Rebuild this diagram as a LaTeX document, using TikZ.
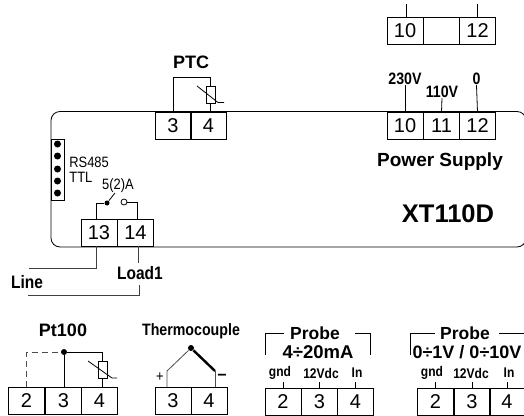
\documentclass[tikz,border=0pt]{standalone}
\usepackage{fontspec}
\setmainfont{Liberation Sans}
\newfontfamily\narrowfont[FakeStretch=.86]{Liberation Sans}
\tikzset{
  cell/.style={draw,minimum width=36,minimum height=27,inner sep=0,outer sep=0,font=\fontsize{20}{20}\selectfont},
  lbl/.style={inner sep=0,font=\bfseries\fontsize{#1}{#1}\selectfont},
  nlbl/.style={inner sep=0,font=\narrowfont\bfseries\fontsize{#1}{#1}\selectfont},
  tlbl/.style={inner sep=0,font=\narrowfont\fontsize{#1}{#1}\selectfont},
  pin/.style={circle,fill=black,inner sep=0,minimum size=#1},
  resist/.style={draw,fill=white,minimum width=9,minimum height=17,inner sep=0,outer sep=0},
}
\begin{document}
\begin{tikzpicture}[x=1pt,y=-1pt,line width=.8pt]
\useasboundingbox (0,0) rectangle (524,415);
% controller body
\draw[rounded corners=9pt] (51,111.5) rectangle (526,247);
% terminals
\node[cell] (top10) at (405,31) {10};
\node[cell] (top11) at (441.5,31) {};
\node[cell] (top12) at (477.5,31) {12};
\node[cell] (sup10) at (405,125.5) {10};
\node[cell] (sup11) at (441.5,125.5) {11};
\node[cell] (sup12) at (477.5,125.5) {12};
\node[cell] (ptc3) at (173,125.5) {3};
\node[cell] (ptc4) at (208.5,125.5) {4};
\node[cell] (rel13) at (99,232.5) {13};
\node[cell] (rel14) at (135.5,232.5) {14};
\node[cell] (pt2) at (26.5,400.5) {2};
\node[cell] (pt3) at (63.5,400.5) {3};
\node[cell] (pt4) at (99.5,400.5) {4};
\node[cell] (tc3) at (173,400.5) {3};
\node[cell] (tc4) at (209,400.5) {4};
\node[cell] (ma2) at (283,401.5) {2};
\node[cell] (ma3) at (319.5,401.5) {3};
\node[cell] (ma4) at (355.5,401.5) {4};
\node[cell] (vo2) at (435.5,401.5) {2};
\node[cell] (vo3) at (472,401.5) {3};
\node[cell] (vo4) at (507,401.5) {4};
% top supply
\coordinate (top10end) at (406,4);
\coordinate (top12end) at (477.5,4);
\draw (top10.north -| top10end) -- (top10end);
\draw (top12.north) -- (top12end);
% supply
\node[nlbl=16.5] (v230) at (405,79) {230V};
\node[nlbl=16.5] (v110) at (442,92) {110V};
\node[nlbl=16.5] (v0) at (476.5,79) {0};
\draw (sup10.north) -- (v230.south);
\draw (sup11.north) -- (v110.south);
\draw (sup12.north) -- (v0.south);
\node[lbl=19] (supply) at (440,162) {Power Supply};
\node[lbl=25.5] (model) at (448,214) {XT110D};
% PTC
\node[lbl=18] (ptclbl) at (191,62) {PTC};
\node[resist] (ptcr) at (210.5,94.5) {};
\draw (ptc3.north) |- (210.5,77) -- (ptcr.north);
\draw (ptcr.south) -- (ptcr.south |- ptc4.north);
\draw (197,86) -- (218,102.5) -- (224,102.5);
% serial port
\node[draw,minimum width=13,minimum height=61,inner sep=0] (port) at (57.5,169.5) {};
\node[pin=7] (d1) at (57.5,144) {};
\node[pin=7] (d2) at (57.5,156) {};
\node[pin=7] (d3) at (57.5,169) {};
\node[pin=7] (d4) at (57.5,181) {};
\node[pin=7] (d5) at (57.5,193) {};
\node[tlbl=15,anchor=west] (rs) at (69,162) {RS485};
\node[tlbl=15,anchor=west] (ttl) at (69,177) {TTL};
% relay
\node[tlbl=15] (amp) at (118,186) {5(2)A};
\node[pin=5] (nc) at (107,203) {};
\node[circle,draw,fill=white,minimum size=6,inner sep=0] (no) at (124,202) {};
\draw (rel13.north -| 96,0) |- (nc);
\draw (nc) -- (115,193);
\draw (no) -| (137,219);
% line and load
\node[nlbl=18] (line) at (27,282) {Line};
\node[nlbl=18] (load) at (140,273) {Load1};
\draw[black!75] (96,246) |- (29,268);
\draw[black!75] (138,246) -- (138,263);
\draw[black!75] (139,285) |- (28,295);
% Pt100
\node[lbl=18] (ptlbl) at (63,330) {Pt100};
\node[pin=6] (ptd) at (64,352) {};
\node[resist] (ptr) at (102.5,369.5) {};
\draw[dash pattern=on 6pt off 4pt,black!70] (pt2.north) |- (ptd);
\draw (ptd) -- (ptd |- pt3.north);
\draw (ptd) -| (ptr.north);
\draw (ptr.south) -- (ptr.south |- pt4.north);
\draw (88,361) -- (112,378) -- (117,378);
% thermocouple
\node[nlbl=16.5] (tclbl) at (191,331) {Thermocouple};
\node[pin=6] (tcd) at (191,348) {};
\coordinate (tcl) at (167,371);
\coordinate (tcr) at (215,371);
\draw[black!70] (tcl |- tc3.north) -- (tcl) -- (tcd);
\draw[line width=2.4pt] (tcd) -- (tcr);
\draw[black!70] (tcr) -- (tcr |- tc4.north);
\node[tlbl=15] (plus) at (160,377) {+};
\node[lbl=16] (minus) at (222,377) {\textminus};
% 4-20 mA
\node[lbl=17.5] (malbl) at (315,333) {Probe};
\node[lbl=18.5] (marange) at (318,352) {4÷20mA};
\draw (265,355) |- (284,333);
\draw (355,333) -| (370,355);
\node[nlbl=14] (magnd) at (280,373) {gnd};
\node[nlbl=14] (ma12) at (321,373) {12Vdc};
\node[nlbl=14] (main) at (357,373) {In};
\draw (ma2.north) -- ++(0,-6);
\draw (ma3.north) -- ++(0,-6);
\draw (ma4.north) -- ++(0,-6);
% 0-10 V
\node[lbl=17.5] (volbl) at (465,333) {Probe};
\node[lbl=18] (vorange) at (467,352) {0÷1V / 0÷10V};
\draw (410,355) |- (435,333);
\draw (499,333) -- (524,333);
\node[nlbl=14] (vognd) at (432,373) {gnd};
\node[nlbl=14] (vo12) at (471,373) {12Vdc};
\node[nlbl=14] (voin) at (509,373) {In};
\draw (vo2.north) -- ++(0,-6);
\draw (vo3.north) -- ++(0,-6);
\draw (vo4.north) -- ++(0,-6);
\end{tikzpicture}
\end{document}
